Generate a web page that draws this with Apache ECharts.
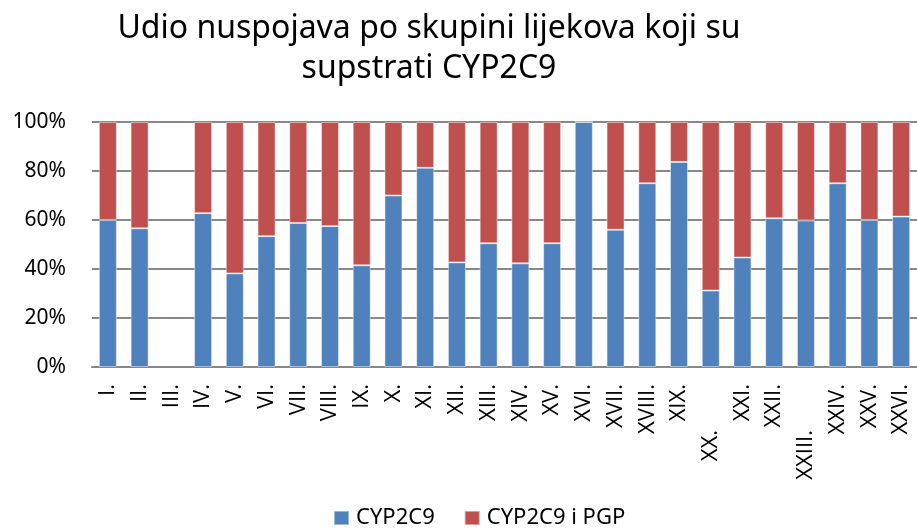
<!DOCTYPE html>
<html>
<head>
<meta charset="utf-8">
<script src="https://cdn.jsdelivr.net/npm/echarts@6/dist/echarts.min.js"></script>
<style>
	html, body { margin: 0; padding: 0; background: #fff; }
	#chart { width: 917px; height: 531px; }
</style>
</head>
<body>
<div id="chart"></div>
<script>
	// kategorije (skupine lijekova)
	var categories = ['I.', 'II.', 'III.', 'IV.', 'V.', 'VI.', 'VII.', 'VIII.', 'IX.', 'X.', 'XI.', 'XII.', 'XIII.',
		'XIV.', 'XV.', 'XVI.', 'XVII.', 'XVIII.', 'XIX.', 'XX.', 'XXI.', 'XXII.', 'XXIII.', 'XXIV.', 'XXV.', 'XXVI.'];
	// udio (%) - CYP2C9  (III. nema podataka)
	var cyp2c9 = [60, 56.6, null, 62.8, 38.2, 53.4, 58.8, 57.5, 41.5, 70, 81.3, 42.7, 50.5,
		42.3, 50.5, 100, 56, 75, 83.7, 31.2, 44.7, 60.7, 59.8, 75, 60, 61.4];
	// udio (%) - CYP2C9 i PGP
	var cyp2c9Pgp = [40, 43.4, null, 37.2, 61.8, 46.6, 41.2, 42.5, 58.5, 30, 18.7, 57.3, 49.5,
		57.7, 49.5, 0, 44, 25, 16.3, 68.8, 55.3, 39.3, 40.2, 25, 40, 38.6];
	var yTicks = [0, 20, 40, 60, 80, 100];
	// oznake koje su u originalu pomaknute prema dolje
	var shiftedLabels = ['XX.', 'XXIII.'];

	var font = 'Noto Sans';
	var labelFont = 'Open Sans';
	var myChart = echarts.init(document.getElementById('chart'));

	var option = {
		animation: false,
		title: {
			text: 'Udio nuspojava po skupini lijekova koji su\nsupstrati CYP2C9',
			left: 424,
			top: 4,
			textAlign: 'center',
			textStyle: {
				fontFamily: font,
				fontWeight: 'normal',
				fontSize: 32,
				lineHeight: 40,
				color: '#000'
			}
		},
		legend: {
			data: ['CYP2C9', 'CYP2C9 i PGP'],
			left: 328,
			top: 502,
			itemWidth: 15,
			itemHeight: 14,
			itemGap: 29,
			icon: 'rect',
			textStyle: { fontFamily: font, fontSize: 22, color: '#000', padding: [0, 0, 0, 2] }
		},
		grid: {
			left: 92,
			top: 122,
			width: 832,
			height: 245,
			containLabel: false
		},
		xAxis: {
			type: 'category',
			data: categories,
			axisTick: { show: false },
			axisLine: { lineStyle: { color: '#888', width: 2 } },
			axisLabel: {
				rotate: 90,
				interval: 0,
				margin: 17,
				fontFamily: labelFont,
				fontSize: 22,
				color: '#000',
				formatter: function(v) {
					return shiftedLabels.indexOf(v) >= 0 ? '{s|' + v + '}' : '{n|' + v + '}';
				},
				rich: {
					n: { fontFamily: labelFont, fontSize: 22, color: '#000' },
					s: { fontFamily: labelFont, fontSize: 22, color: '#000', padding: [0, 46, 0, 0] }
				}
			}
		},
		yAxis: {
			type: 'value',
			min: yTicks[0],
			max: yTicks[yTicks.length - 1],
			interval: 20,
			axisLine: { show: false },
			axisTick: { show: false },
			splitLine: { lineStyle: { color: '#888', width: 2 } },
			axisLabel: {
				formatter: '{value}%',
				margin: 26,
				fontFamily: font,
				fontSize: 21,
				color: '#000'
			}
		},
		series: [{
			name: 'CYP2C9',
			type: 'bar',
			stack: 'ukupno',
			barWidth: 18,
			itemStyle: { color: '#4F81BD', borderColor: 'rgba(255,255,255,0.45)', borderWidth: 1 },
			data: cyp2c9
		}, {
			name: 'CYP2C9 i PGP',
			type: 'bar',
			stack: 'ukupno',
			barWidth: 18,
			itemStyle: { color: '#C0504D', borderColor: 'rgba(255,255,255,0.45)', borderWidth: 1 },
			data: cyp2c9Pgp
		}]
	};
	myChart.setOption(option);
</script>
</body>
</html>
